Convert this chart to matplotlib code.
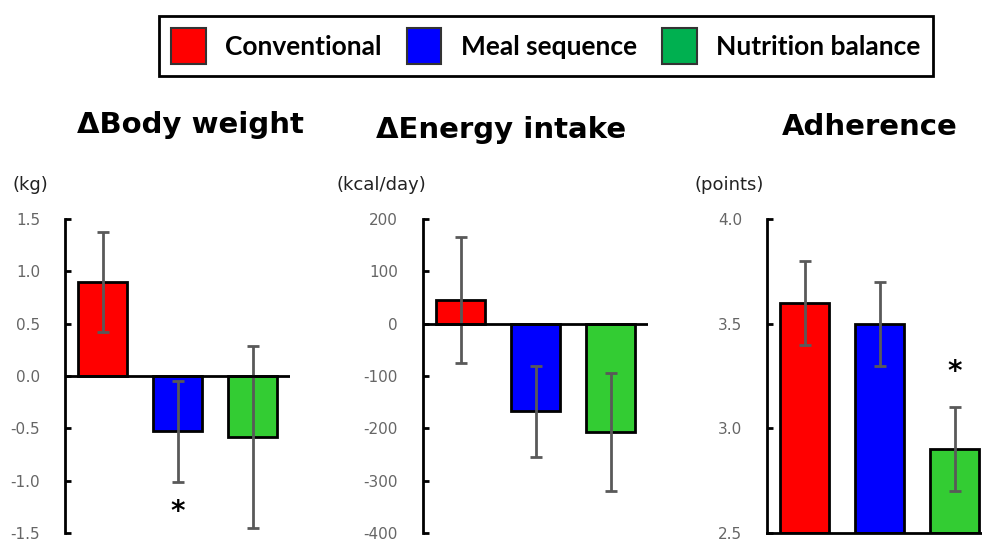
import matplotlib.pyplot as plt
from matplotlib.patches import Patch

# groups and colours
groups = ['Conventional', 'Meal sequence', 'Nutrition balance']
bar_colors = ['#FF0000', '#0000FF', '#33CC33']
legend_colors = ['#FF0000', '#0000FF', '#00B050']

# values
weight_mean = [0.90, -0.53, -0.58]
weight_err = [0.48, 0.48, 0.87]
energy_mean = [45, -167, -207]
energy_err = [120, 87, 113]
adher_mean = [3.6, 3.5, 2.9]
adher_err = [0.2, 0.2, 0.2]

panels = [
    dict(title='\u0394Body weight', unit='(kg)', mean=weight_mean, err=weight_err,
         ylim=(-1.5, 1.5), ticks=[-1.5, -1.0, -0.5, 0.0, 0.5, 1.0, 1.5], fmt='{:.1f}',
         star=(1, -1.3), left=65, zero=True, tx=190, ty=125, ux=12),
    dict(title='\u0394Energy intake', unit='(kcal/day)', mean=energy_mean, err=energy_err,
         ylim=(-400, 200), ticks=[-400, -300, -200, -100, 0, 100, 200], fmt='{:.0f}',
         star=None, left=423, zero=True, tx=501, ty=130, ux=336),
    dict(title='Adherence', unit='(points)', mean=adher_mean, err=adher_err,
         ylim=(2.5, 4.0), ticks=[2.5, 3.0, 3.5, 4.0], fmt='{:.1f}',
         star=(2, 3.27), left=767, zero=False, tx=870, ty=127, ux=695),
]

W, H = 982, 541
fig = plt.figure(figsize=(W / 100, H / 100), dpi=100)

ax_w = 225
ax_top, ax_bot = 219, 533

for p in panels:
    ax = fig.add_axes([p['left'] / W, (H - ax_bot) / H, ax_w / W, (ax_bot - ax_top) / H])
    x = range(len(groups))
    bottom = p['ylim'][0] if not p['zero'] else 0
    heights = [m - bottom for m in p['mean']]
    ax.bar(x, heights, bottom=bottom, width=0.66, color=bar_colors,
           edgecolor='black', linewidth=2, zorder=2)
    ax.errorbar(x, p['mean'], yerr=p['err'], fmt='none', ecolor='#595959',
                elinewidth=2, capsize=4, capthick=2, zorder=3)
    ax.set_xlim(-0.5, 2.5)
    ax.set_ylim(*p['ylim'])
    ax.set_yticks(p['ticks'])
    ax.set_yticklabels([p['fmt'].format(t) for t in p['ticks']])
    ax.set_xticks([])
    for s in ['top', 'right']:
        ax.spines[s].set_visible(False)
    ax.spines['left'].set_linewidth(2)
    if p['zero']:
        ax.spines['bottom'].set_visible(False)
        ax.axhline(0, color='black', linewidth=2, zorder=4)
    else:
        ax.spines['bottom'].set_linewidth(2)
    ax.tick_params(axis='y', direction='in', length=4, width=2, pad=18,
                   labelsize=11, labelcolor='#666666')
    if p['star']:
        ax.text(p['star'][0], p['star'][1], '*', ha='center', va='center',
                fontsize=20, fontweight='bold', color='black')
    # unit label and title
    fig.text(p['ux'] / W, 1 - 185 / H, p['unit'], fontsize=13,
             ha='left', va='center', color='#222222')
    fig.text(p['tx'] / W, 1 - p['ty'] / H, p['title'], fontsize=21,
             fontweight='bold', ha='center', va='center')

handles = [Patch(facecolor=c, edgecolor='#333333', linewidth=1.5) for c in legend_colors]
leg = fig.legend(handles, groups, ncol=3, loc='center',
                 bbox_to_anchor=(546 / W, 1 - 46 / H), frameon=True, fancybox=False,
                 edgecolor='black', framealpha=1, handlelength=1.3, handleheight=1.75,
                 handletextpad=0.75, columnspacing=0.95, borderpad=0.45,
                 prop={'family': 'Lato', 'weight': 'bold', 'size': 19})
leg.get_frame().set_linewidth(2)

fig.savefig('out.png', dpi=100)
